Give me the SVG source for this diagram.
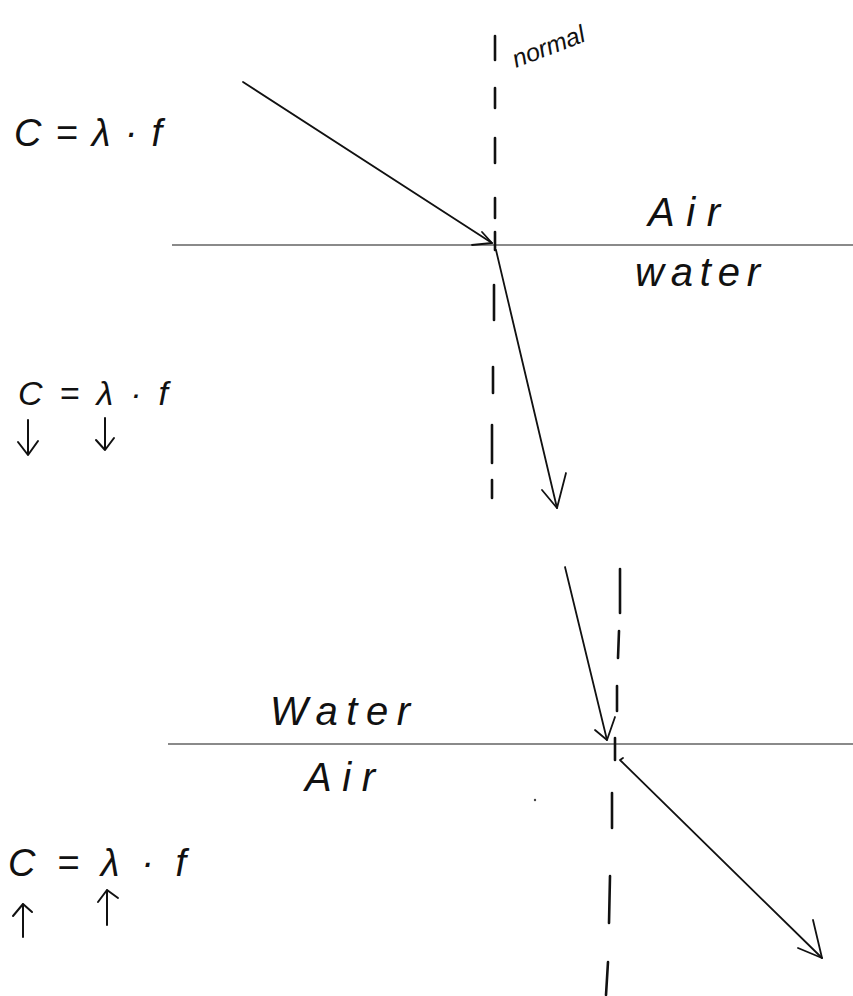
<svg xmlns="http://www.w3.org/2000/svg" width="853" height="996" viewBox="0 0 853 996">
<style>
.surface{stroke:#8a8a8a;stroke-width:2;fill:none}
.normal{stroke:#111;stroke-width:2.6;stroke-linecap:round;fill:none}
.ray{stroke:#111;stroke-width:1.8;fill:none;stroke-linecap:round;stroke-linejoin:round}
.hand{font-family:"Liberation Sans","DejaVu Sans",sans-serif;font-style:italic;fill:#111}
.arrow{stroke:#111;stroke-width:2;fill:none;stroke-linecap:round;stroke-linejoin:round}
</style>
<rect width="853" height="996" fill="#fff"/>

<g id="top-surface">
  <line class="surface" x1="172" y1="245" x2="853" y2="245"/>
</g>
<g id="top-normal">
  <line class="normal" x1="495" y1="36" x2="495" y2="60"/>
  <line class="normal" x1="495" y1="88" x2="495" y2="108"/>
  <line class="normal" x1="495" y1="138" x2="495" y2="163"/>
  <line class="normal" x1="495" y1="198" x2="495" y2="218"/>
  <line class="normal" x1="495" y1="232" x2="495" y2="250"/>
  <line class="normal" x1="494" y1="285" x2="494" y2="320"/>
  <line class="normal" x1="493" y1="367" x2="493" y2="393"/>
  <line class="normal" x1="492" y1="425" x2="492" y2="463"/>
  <line class="normal" x1="492" y1="480" x2="492" y2="498"/>
</g>
<g id="label-normal">
  <text class="hand" font-size="25" transform="translate(516,68) rotate(-21)" textLength="76" lengthAdjust="spacing">normal</text>
</g>
<g id="label-air-top">
  <text class="hand" x="648" y="226" font-size="40" textLength="72" lengthAdjust="spacing">Air</text>
</g>
<g id="label-water-top">
  <text class="hand" x="635" y="286" font-size="40" textLength="125" lengthAdjust="spacing">water</text>
</g>
<g id="formula-1">
  <text class="hand" x="14" y="146" font-size="38" textLength="148" lengthAdjust="spacing">C = λ · f</text>
</g>
<g id="formula-2">
  <text class="hand" x="18" y="405" font-size="34" textLength="150" lengthAdjust="spacing">C = λ · f</text>
  <path class="arrow" d="M28 420 L28 455 M18 442 L28 455 L38 441"/>
  <path class="arrow" d="M105 418 L105 450 M96 440 L105 450 L114 438"/>
</g>

<g id="bottom-surface">
  <line class="surface" x1="168" y1="744" x2="853" y2="744"/>
</g>
<g id="bottom-normal">
  <line class="normal" x1="620" y1="569" x2="620" y2="613"/>
  <line class="normal" x1="619" y1="631" x2="618" y2="658"/>
  <line class="normal" x1="617" y1="686" x2="617" y2="711"/>
  <line class="normal" x1="615" y1="738" x2="615" y2="760"/>
  <line class="normal" x1="612" y1="793" x2="612" y2="828"/>
  <line class="normal" x1="610" y1="876" x2="609" y2="923"/>
  <line class="normal" x1="608" y1="962" x2="606" y2="995"/>
</g>
<g id="label-water-bottom">
  <text class="hand" x="270" y="725" font-size="40" textLength="140" lengthAdjust="spacing">Water</text>
</g>
<g id="label-air-bottom">
  <text class="hand" x="305" y="791" font-size="40" textLength="70" lengthAdjust="spacing">Air</text>
</g>
<g id="formula-3">
  <text class="hand" x="8" y="876" font-size="38" textLength="178" lengthAdjust="spacing">C = λ · f</text>
  <path class="arrow" d="M23 937 L23 904 M13 916 L23 904 L32 912"/>
  <path class="arrow" d="M107 925 L107 890 M98 902 L107 890 L118 898"/>
</g>
<g id="stray-dot">
  <circle cx="535" cy="800" r="1.2" fill="#444"/>
</g>

<g id="connectors">
  <path class="ray" d="M243 82 L492 243"/>
  <path class="ray" d="M472 245 L492 243 L482 232"/>
  <path class="ray" d="M496 250 L557 508"/>
  <path class="ray" d="M542 490 L557 508 L566 473"/>
  <path class="ray" d="M565 567 L607 740"/>
  <path class="ray" d="M595 730 L607 740 L615 717"/>
  <path class="ray" d="M623 758 L620 760 L822 958"/>
  <path class="ray" d="M798 948 L822 958 L813 920"/>
</g>
</svg>
